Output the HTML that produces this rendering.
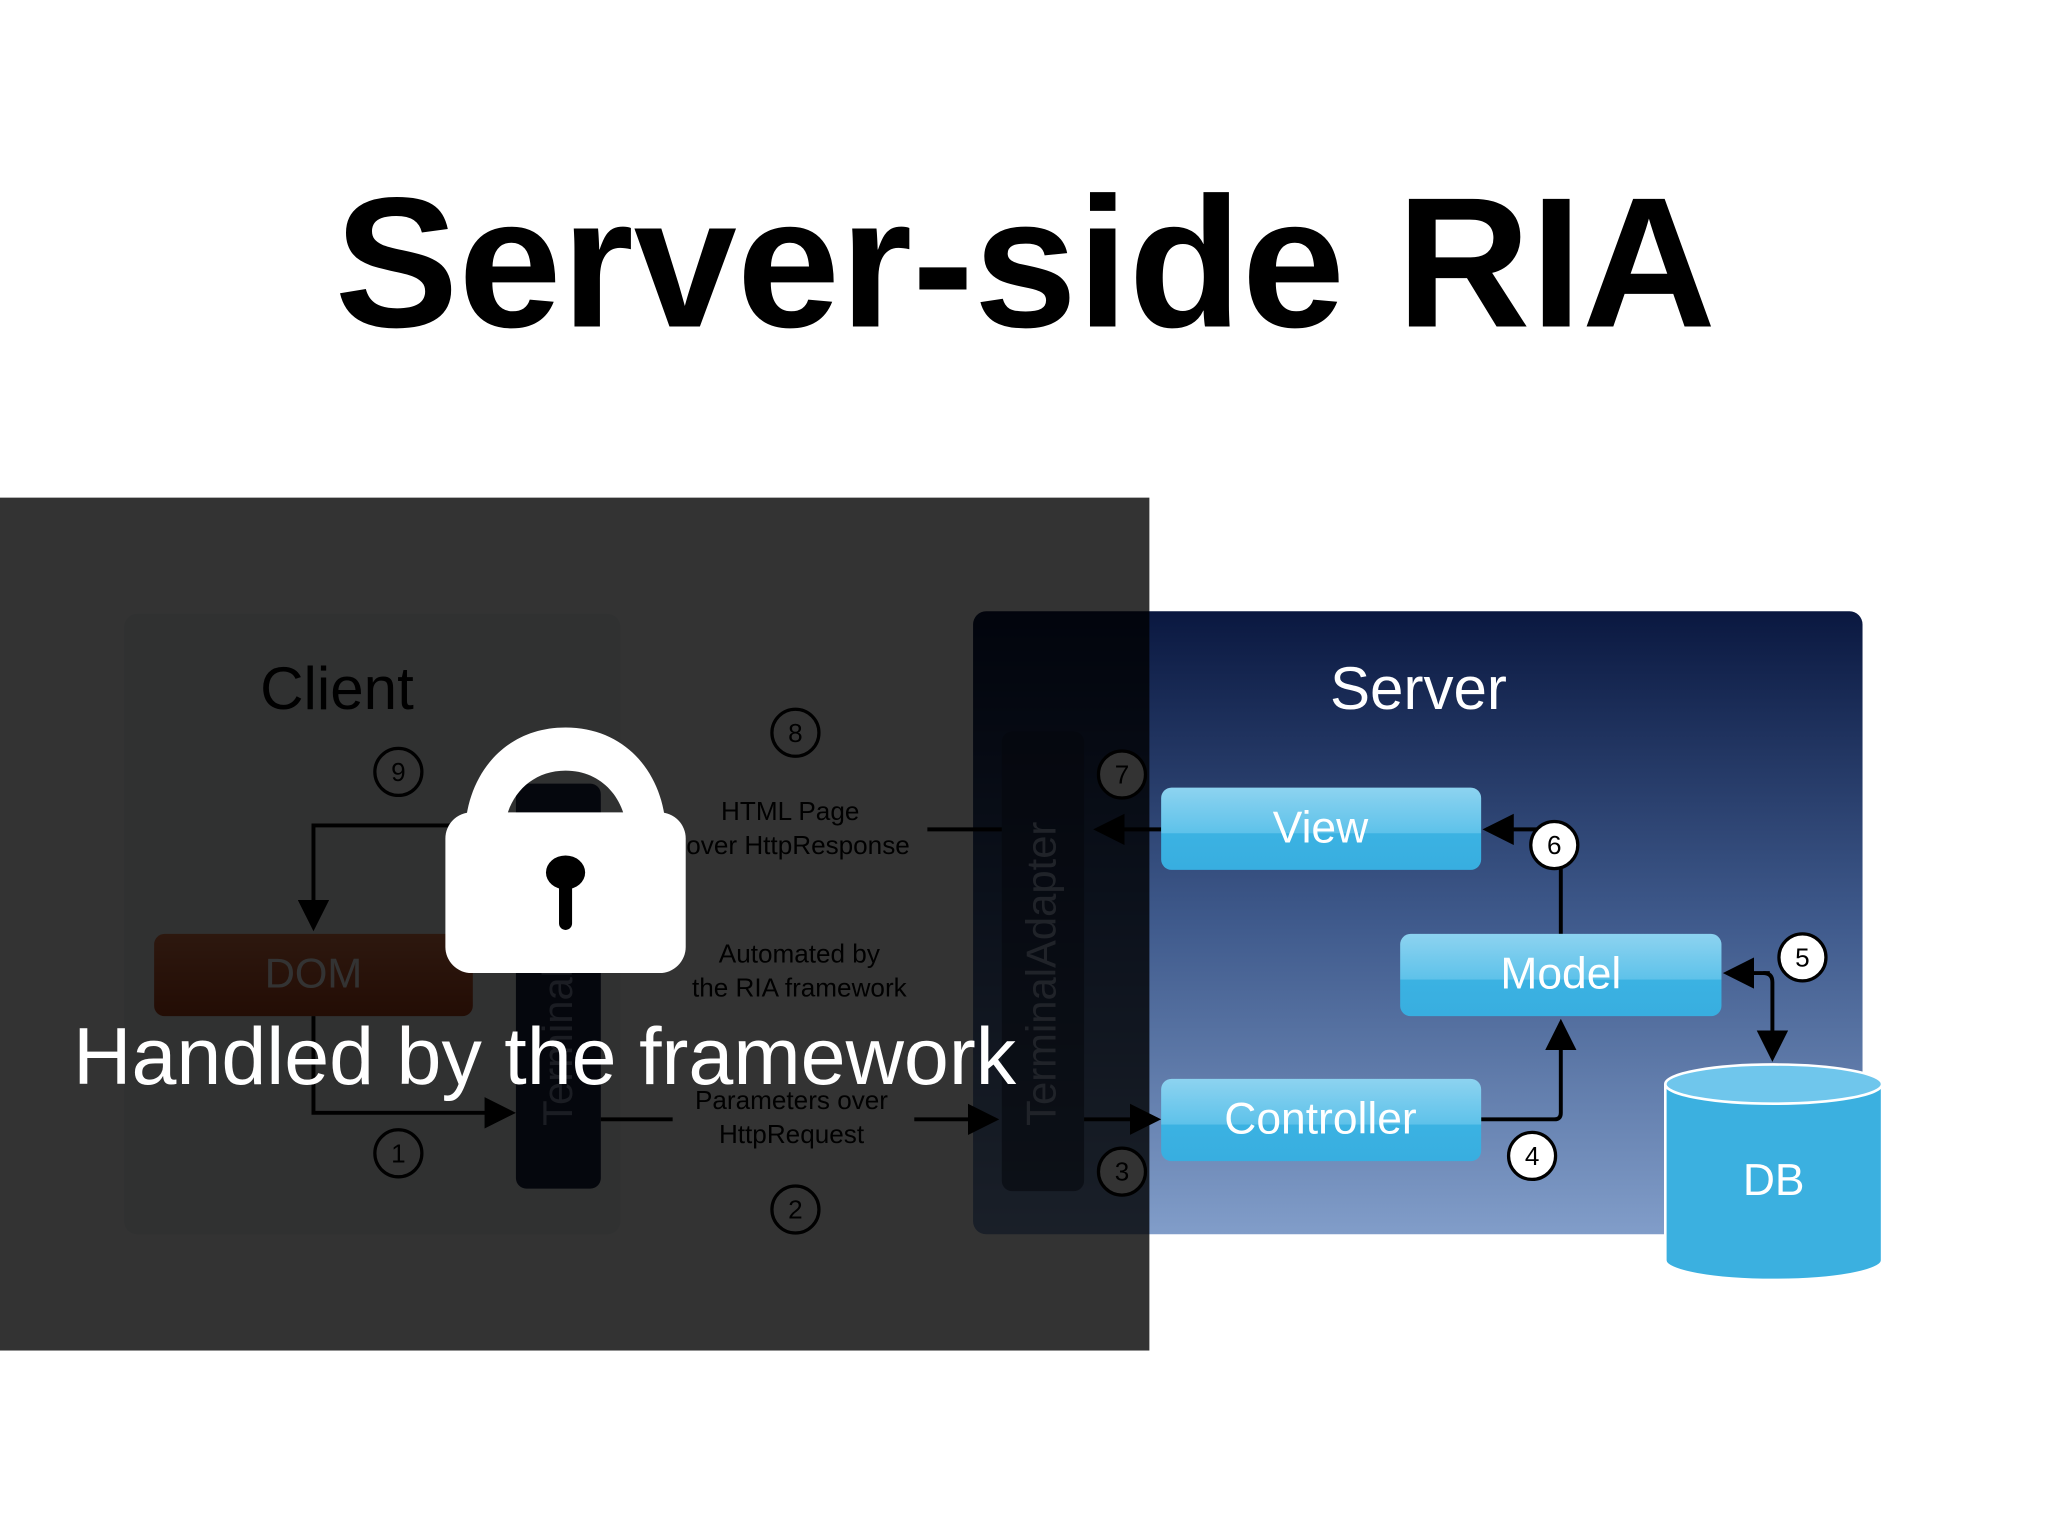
<!DOCTYPE html>
<html><head><meta charset="utf-8"><style>html,body{margin:0;padding:0;background:#fff}svg{display:block}</style></head>
<body>
<svg width="2048" height="1536" viewBox="0 0 1568 1176" xmlns="http://www.w3.org/2000/svg" font-family="Liberation Sans, sans-serif">
<defs>
<linearGradient id="srv" x1="0" y1="0" x2="0" y2="1"><stop offset="0" stop-color="#0a1840"/><stop offset="0.5" stop-color="#3f5a8c"/><stop offset="1" stop-color="#819dc9"/></linearGradient>
<linearGradient id="btn" x1="0" y1="0" x2="0" y2="1"><stop offset="0" stop-color="#8dd3f0"/><stop offset="0.55" stop-color="#5ec2ea"/><stop offset="0.56" stop-color="#3bb2e2"/><stop offset="1" stop-color="#38aee0"/></linearGradient>
<linearGradient id="dom" x1="0" y1="0" x2="0" y2="1"><stop offset="0" stop-color="#e0784a"/><stop offset="1" stop-color="#b0401a"/></linearGradient>
<marker id="ah" markerWidth="8" markerHeight="8" refX="7" refY="4" orient="auto" markerUnits="strokeWidth"><path d="M0,0 L8,4 L0,8 z" fill="#000"/></marker>
</defs>
<rect width="1568" height="1176" fill="#fff"/>
<text x="785" y="250" font-size="142" font-weight="bold" text-anchor="middle" fill="#000">Server-side RIA</text>

<rect x="745" y="468" width="681" height="477" rx="10" fill="url(#srv)"/>
<rect x="767" y="560" width="63" height="352" rx="8" fill="#1a2440" opacity="0.6"/>
<text transform="translate(808,862) rotate(-90)" font-size="32" fill="#a0b0cc">TerminalAdapter</text>
<text x="1086" y="543" font-size="46" fill="#fff" text-anchor="middle">Server</text>

<rect x="95" y="470" width="380" height="475" rx="10" fill="#eef2f6"/>
<text x="258" y="543" font-size="46" fill="#000" text-anchor="middle">Client</text>
<rect x="118" y="715" width="244" height="63" rx="8" fill="url(#dom)"/>
<text x="240" y="756" font-size="32" fill="#fff" text-anchor="middle">DOM</text>
<rect x="395" y="600" width="65" height="310" rx="8" fill="#1c2440"/>
<text transform="translate(438,862) rotate(-90)" font-size="32" fill="#8893b0">Terminal Adapter</text>

<g stroke="#000" stroke-width="3" fill="none">
<path d="M345,632 H240 V710" marker-end="url(#ah)"/>
<path d="M240,778 V852 H392" marker-end="url(#ah)"/>
<path d="M460,857 H515"/>
<path d="M700,857 H762" marker-end="url(#ah)"/>
<path d="M830,857 H886" marker-end="url(#ah)"/>
<path d="M889,635 H840" marker-end="url(#ah)"/>
<path d="M767,635 H710"/>
<path d="M1134,857 H1190 Q1195,857 1195,852 V783" marker-end="url(#ah)"/>
<path d="M1195,715 V635 H1138" marker-end="url(#ah)"/>
<path d="M1355,745 H1322" marker-end="url(#ah)"/>
<path d="M1350,745 Q1357,745 1357,752 V810" marker-end="url(#ah)"/>
</g>
<g font-size="20" fill="#000" text-anchor="middle">
<text x="605" y="628">HTML Page</text><text x="611" y="654">over HttpResponse</text>
<text x="612" y="737">Automated by</text><text x="612" y="763">the RIA framework</text>
<text x="606" y="849">Parameters over</text><text x="606" y="875">HttpRequest</text>
</g>
<g fill="#fff" stroke="#000" stroke-width="2.5" font-size="20" text-anchor="middle">
<circle cx="305" cy="591" r="18"/><circle cx="305" cy="883" r="18"/><circle cx="609" cy="561" r="18"/><circle cx="609" cy="926" r="18"/>
<circle cx="859" cy="593" r="18"/><circle cx="859" cy="897" r="18"/>
<circle cx="1190" cy="647" r="18"/><circle cx="1380" cy="733" r="18"/><circle cx="1173" cy="885" r="18"/>
</g>
<g font-size="20" fill="#000" text-anchor="middle">
<text x="305" y="598">9</text><text x="305" y="890">1</text><text x="609" y="568">8</text><text x="609" y="933">2</text>
<text x="859" y="600">7</text><text x="859" y="904">3</text><text x="1190" y="654">6</text><text x="1380" y="740">5</text><text x="1173" y="892">4</text>
</g>

<rect x="889" y="603" width="245" height="63" rx="8" fill="url(#btn)"/>
<rect x="1072" y="715" width="246" height="63" rx="8" fill="url(#btn)"/>
<rect x="889" y="826" width="245" height="63" rx="8" fill="url(#btn)"/>
<g font-size="34" fill="#fff" text-anchor="middle">
<text x="1011" y="645">View</text><text x="1195" y="757">Model</text><text x="1011" y="868">Controller</text>
</g>
<path d="M1275,830 V965 A83,15 0 0 0 1441,965 V830" fill="#3bb0e0" stroke="#fff" stroke-width="2"/>
<ellipse cx="1358" cy="830" rx="83" ry="15" fill="#6fc6ec" stroke="#fff" stroke-width="2"/>
<text x="1358" y="915" font-size="34" fill="#fff" text-anchor="middle">DB</text>

<rect x="0" y="381" width="880" height="653" fill="#000" opacity="0.8"/>

<path d="M433,557 C385,557 356,595 356,640 L386,640 C386,612 405,590 433,590 C461,590 480,612 480,640 L510,640 C510,595 481,557 433,557 z" fill="#fff"/>
<rect x="341" y="622" width="184" height="123" rx="20" fill="#fff"/>
<ellipse cx="433" cy="668" rx="15" ry="13" fill="#000"/>
<rect x="428" y="672" width="10" height="40" rx="5" fill="#000"/>
<text x="56" y="830" font-size="62" fill="#fff" textLength="722" lengthAdjust="spacingAndGlyphs">Handled by the framework</text>
</svg>
</body></html>
